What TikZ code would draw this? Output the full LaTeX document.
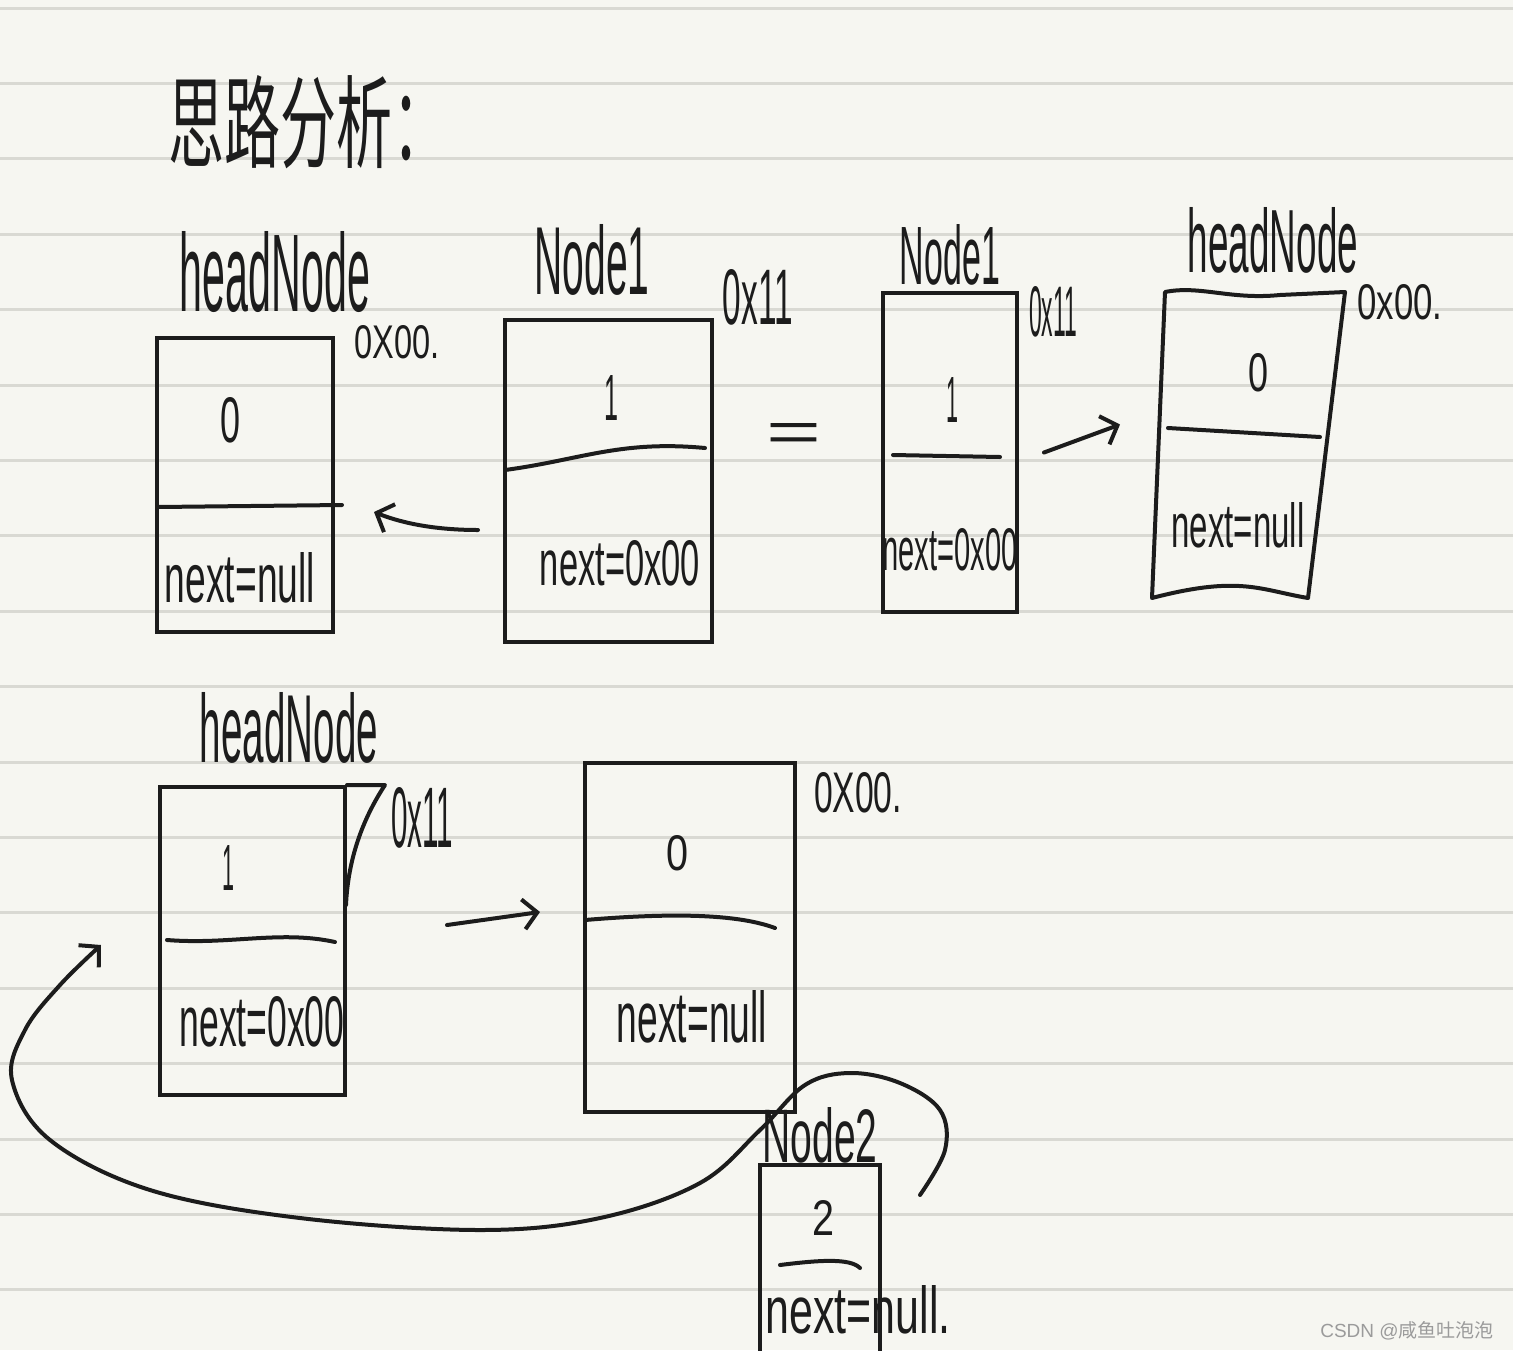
\documentclass[tikz,border=0pt]{standalone}
\usepackage{fontspec}
\setmainfont{Liberation Sans}
\newfontfamily\cjk{Noto Sans CJK SC}
\usetikzlibrary{arrows.meta,calc}
\definecolor{paper}{HTML}{F6F6F1}
\definecolor{rulecol}{HTML}{D9D9D3}
\definecolor{ink}{HTML}{1C1C1C}
\definecolor{wmark}{HTML}{9B9B9B}
\newcommand\hw[3]{\resizebox{#1pt}{#2pt}{#3}}
\begin{document}
\begin{tikzpicture}[x=1pt,y=-1pt,
  box/.style={draw=ink,line width=4pt,rectangle,inner sep=0pt},
  txt/.style={inner sep=0pt,text=ink},
  link/.style={draw=ink,line width=4pt,line cap=round,line join=round,-{Straight Barb[length=14pt,width=30pt]}},
  part/.style={draw=ink,line width=4pt,line cap=round,line join=round}]
\useasboundingbox (0,0) rectangle (1513,1350);
\clip (0,0) rectangle (1513,1350);
\fill[paper] (0,0) rectangle (1513,1350);
\foreach \k in {0,...,17} \draw[rulecol,line width=3pt] (0,{8+75.4*\k}) -- (1513,{8+75.4*\k});

% title
\node[txt] (title) at (308,122) {\hw{280}{85}{\cjk 思路分析：}};

% ---- top row ----
\node[box,minimum width=176pt,minimum height=294pt] (A) at (245,485) {};
\draw[part] ($(A.west)+(3,22)$) -- ($(A.east)+(7,20)$);
\node[txt] (Alab) at (275,272) {\hw{190}{80}{headNode}};
\node[txt] (Aaddr) at (397,342) {\hw{85}{33}{0X00.}};
\node[txt] (Aval) at (230,420) {\hw{20}{45}{0}};
\node[txt] (Anext) at (240,578) {\hw{150}{50}{next=null}};

\node[box,minimum width=207pt,minimum height=322pt] (B) at (608.5,481) {};
\draw[part] (505,470) .. controls (580,460) and (620,440) .. (705,448);
\node[txt] (Blab) at (592,260) {\hw{115}{70}{Node1}};
\node[txt] (Baddr) at (758,297) {\hw{70}{55}{0x11}};
\node[txt] (Bval) at (611,398) {\hw{14}{45}{1}};
\node[txt] (Bnext) at (620,563) {\hw{160}{45}{next=0x00}};

\draw[link] ($(B.west)+(-25,49)$) .. controls +(-40,0) and +(30,12) .. ($(A.east)+(39,27)$);

\node[txt] (eq) at (794,437) {\hw{55}{28}{=}};

\node[box,minimum width=134pt,minimum height=319pt] (C) at (950,452.5) {};
\draw[part] (893,455) -- (1000,457);
\node[txt] (Clab) at (950,255) {\hw{100}{60}{Node1}};
\node[txt] (Caddr) at (1053,312) {\hw{48}{50}{0x11}};
\node[txt] (Cval) at (952,400) {\hw{12}{45}{1}};
\node[txt] (Cnext) at (950,550) {\hw{135}{42}{next=0x00}};

\node[inner sep=0pt,minimum width=170pt,minimum height=306pt] (D) at (1248,445) {};
\coordinate (Dnw) at (1165,292);
\coordinate (Dne) at (1345,292);
\coordinate (Dse) at (1308,598);
\coordinate (Dsw) at (1152,598);
\draw[part] (Dnw) .. controls (1200,285) and (1230,300) .. (1280,295) -- (Dne) -- (Dse) .. controls (1260,590) and (1240,575) .. (Dsw) -- cycle;
\draw[part] (1168,428) -- (1320,437);
\node[txt] (Dlab) at (1273,240) {\hw{170}{65}{headNode}};
\node[txt] (Daddr) at (1400,302) {\hw{85}{35}{0x00.}};
\node[txt] (Dval) at (1258,373) {\hw{20}{38}{0}};
\node[txt] (Dnext) at (1238,525) {\hw{133}{45}{next=null}};

\draw[link] ($(C.east)+(25,0)$) -- ++(76,-28);

% ---- bottom row ----
\node[box,minimum width=185pt,minimum height=308pt] (E) at (252.5,941) {};
\draw[part] (E.north east) -- (385,785) .. controls (362,820) and (348,860) .. (346,905);
\draw[part] (167,940) .. controls (230,945) and (280,930) .. (335,942);
\node[txt] (Elab) at (289,728) {\hw{178}{70}{headNode}};
\node[txt] (Eaddr) at (422,818) {\hw{62}{60}{0x11}};
\node[txt] (Eval) at (228,868) {\hw{12}{45}{1}};
\node[txt] (Enext) at (262,1022) {\hw{165}{50}{next=0x00}};

\node[box,minimum width=210pt,minimum height=349pt] (F) at (690,937.5) {};
\draw[part] (585,920) .. controls (680,912) and (740,915) .. (775,928);
\node[txt] (Faddr) at (858,793) {\hw{88}{40}{0X00.}};
\node[txt] (Fval) at (677,853) {\hw{22}{35}{0}};
\node[txt] (Fnext) at (692,1017) {\hw{150}{52}{next=null}};

\draw[link] ($(E.east)+(100,-16)$) -- ++(93,-13);

\node[box,minimum width=120pt,minimum height=220pt] (G) at (820,1275) {};
\draw[part] (780,1265) .. controls (820,1260) and (850,1258) .. (860,1268);
\node[txt] (Glab) at (820,1135) {\hw{115}{55}{Node2}};
\node[txt] (Gval) at (823,1218) {\hw{22}{35}{2}};
\node[txt] (Gnext) at (858,1310) {\hw{185}{48}{next=null.}};

\coordinate (cs) at ($(G.north east)+(38,32)$);
\coordinate (ce) at ($(E.west)+(-57,4)$);
\draw[link] plot[smooth,tension=0.6] coordinates {(cs) (945,1150) (940,1110) (900,1083) (850,1073) (805,1085) (760,1130) (700,1183) (600,1218) (480,1230) (300,1218) (150,1190) (50,1140) (12,1080) (25,1030) (60,985) (ce)};

\node[txt,text=wmark] (wm) at (1407,1331) {\fontsize{19}{19}\selectfont CSDN @{\cjk 咸鱼吐泡泡}};
\end{tikzpicture}
\end{document}
